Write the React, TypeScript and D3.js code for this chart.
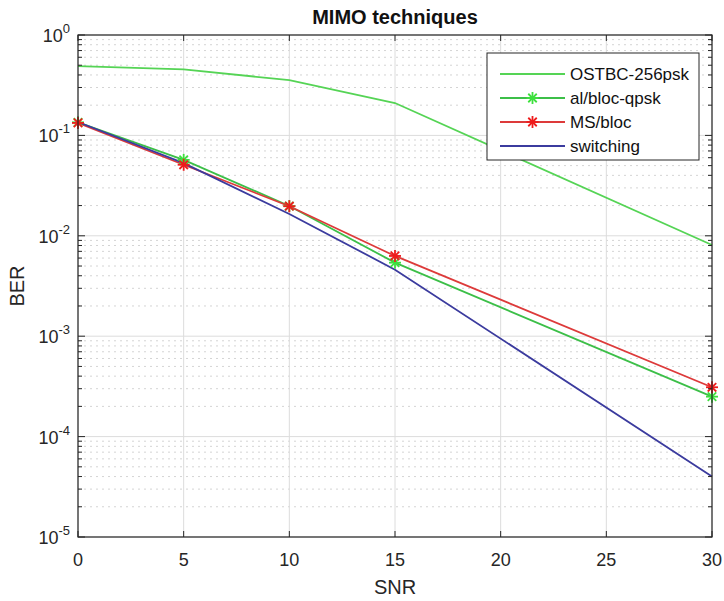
import { useEffect, useRef } from "react";
import * as d3 from "d3";

const snr = [0, 5, 10, 15, 30];
const ostbc = [0.49, 0.455, 0.355, 0.21, 0.0081];
const alBloc = [0.135, 0.057, 0.0198, 0.0054, 0.00025];
const msBloc = [0.133, 0.051, 0.0197, 0.0063, 0.00031];
const switching = [0.136, 0.053, 0.0165, 0.0046, 0.00004];
const xTicks = [0, 5, 10, 15, 20, 25, 30];
const yExps = [0, -1, -2, -3, -4, -5];

const series = [
  { name: "OSTBC-256psk", values: ostbc, color: "#55d455", marker: false, mcolor: "" },
  { name: "al/bloc-qpsk", values: alBloc, color: "#3cbf48", marker: true, mcolor: "#3ee03e" },
  { name: "MS/bloc", values: msBloc, color: "#dd3a3a", marker: true, mcolor: "#ee1c1c" },
  { name: "switching", values: switching, color: "#3b3b9e", marker: false, mcolor: "" },
];

const App = () => {
  const svgRef = useRef<SVGSVGElement>(null);

  useEffect(() => {
    const w = 724;
    const h = 601;
    const m = { left: 78, right: 12, top: 35, bottom: 64 };
    const svg = d3.select(svgRef.current).attr("width", w).attr("height", h);
    svg.selectAll("*").remove();

    const x = d3.scaleLinear().domain([0, 30]).range([m.left, w - m.right]);
    const y = d3.scaleLog().domain([1e-5, 1]).range([h - m.bottom, m.top]);
    const font = "Arial, 'Liberation Sans', sans-serif";

    svg.append("rect").attr("width", w).attr("height", h).attr("fill", "#fff");

    // minor grid
    const minors: number[] = [];
    yExps.slice(1).forEach((e) => {
      for (let k = 2; k <= 9; k++) minors.push(k * Math.pow(10, e));
    });
    svg.append("g").selectAll("line").data(minors).join("line")
      .attr("x1", m.left).attr("x2", w - m.right)
      .attr("y1", (d) => y(d)).attr("y2", (d) => y(d))
      .attr("stroke", "#d4d4d4").attr("stroke-dasharray", "2,4").attr("stroke-width", 1);

    // major grid
    svg.append("g").selectAll("line").data(xTicks).join("line")
      .attr("x1", (d) => x(d)).attr("x2", (d) => x(d))
      .attr("y1", m.top).attr("y2", h - m.bottom)
      .attr("stroke", "#dcdcdc");
    svg.append("g").selectAll("line").data(yExps).join("line")
      .attr("x1", m.left).attr("x2", w - m.right)
      .attr("y1", (d) => y(Math.pow(10, d))).attr("y2", (d) => y(Math.pow(10, d)))
      .attr("stroke", "#dcdcdc");

    // series
    const line = d3.line<[number, number]>().x((d) => x(d[0])).y((d) => y(d[1]));
    series.forEach((s) => {
      const pts = snr.map((v, i) => [v, s.values[i]] as [number, number]);
      svg.append("path").attr("d", line(pts)).attr("fill", "none")
        .attr("stroke", s.color).attr("stroke-width", 1.8);
    });
    const star = (g: any, cx: number, cy: number, c: string) => {
      const r = 6;
      [0, 45, 90, 135].forEach((a) => {
        const rad = (a * Math.PI) / 180;
        g.append("line")
          .attr("x1", cx - r * Math.cos(rad)).attr("y1", cy - r * Math.sin(rad))
          .attr("x2", cx + r * Math.cos(rad)).attr("y2", cy + r * Math.sin(rad))
          .attr("stroke", c).attr("stroke-width", 1.8);
      });
    };
    series.filter((s) => s.marker).forEach((s) => {
      const g = svg.append("g");
      snr.forEach((v, i) => star(g, x(v), y(s.values[i]), s.mcolor));
    });

    // box
    svg.append("rect").attr("x", m.left).attr("y", m.top)
      .attr("width", w - m.left - m.right).attr("height", h - m.top - m.bottom)
      .attr("fill", "none").attr("stroke", "#262626").attr("stroke-width", 1.2);

    // ticks
    const tk = svg.append("g").attr("stroke", "#262626").attr("stroke-width", 1);
    xTicks.forEach((t) => {
      tk.append("line").attr("x1", x(t)).attr("x2", x(t)).attr("y1", h - m.bottom).attr("y2", h - m.bottom - 6);
      tk.append("line").attr("x1", x(t)).attr("x2", x(t)).attr("y1", m.top).attr("y2", m.top + 6);
    });
    yExps.forEach((e) => {
      const yy = y(Math.pow(10, e));
      tk.append("line").attr("x1", m.left).attr("x2", m.left + 7).attr("y1", yy).attr("y2", yy);
      tk.append("line").attr("x1", w - m.right).attr("x2", w - m.right - 7).attr("y1", yy).attr("y2", yy);
    });
    minors.forEach((v) => {
      tk.append("line").attr("x1", m.left).attr("x2", m.left + 4).attr("y1", y(v)).attr("y2", y(v));
      tk.append("line").attr("x1", w - m.right).attr("x2", w - m.right - 4).attr("y1", y(v)).attr("y2", y(v));
    });

    // tick labels
    svg.append("g").selectAll("text").data(xTicks).join("text")
      .attr("x", (d) => x(d)).attr("y", h - m.bottom + 29)
      .attr("text-anchor", "middle").attr("font-family", font).attr("font-size", 18)
      .attr("fill", "#262626").text((d) => d);
    yExps.forEach((e) => {
      const t = svg.append("text").attr("x", m.left - 8).attr("y", y(Math.pow(10, e)) + 7)
        .attr("text-anchor", "end").attr("font-family", font).attr("font-size", 18).attr("fill", "#262626");
      t.append("tspan").text("10");
      t.append("tspan").attr("dy", -9).attr("font-size", 13).text(String(e));
    });

    // labels
    svg.append("text").attr("x", (m.left + w - m.right) / 2).attr("y", 24)
      .attr("text-anchor", "middle").attr("font-family", font).attr("font-size", 20)
      .attr("font-weight", "bold").attr("fill", "#111").text("MIMO techniques");
    svg.append("text").attr("x", (m.left + w - m.right) / 2).attr("y", 594)
      .attr("text-anchor", "middle").attr("font-family", font).attr("font-size", 20)
      .attr("fill", "#262626").text("SNR");
    svg.append("text").attr("transform", `translate(24,${(m.top + h - m.bottom) / 2}) rotate(-90)`)
      .attr("text-anchor", "middle").attr("font-family", font).attr("font-size", 20)
      .attr("fill", "#262626").text("BER");

    // legend
    const lg = svg.append("g").attr("transform", "translate(487,53)");
    lg.append("rect").attr("width", 212).attr("height", 107).attr("fill", "#fff")
      .attr("stroke", "#262626").attr("stroke-width", 1);
    series.forEach((s, i) => {
      const yy = 21 + i * 24;
      lg.append("line").attr("x1", 13).attr("x2", 78).attr("y1", yy).attr("y2", yy)
        .attr("stroke", s.color).attr("stroke-width", 1.8);
      if (s.marker) star(lg, 45.5, yy, s.mcolor);
      lg.append("text").attr("x", 83).attr("y", yy + 6).attr("font-family", font)
        .attr("font-size", 17).attr("fill", "#111").text(s.name);
    });
  }, []);

  return <svg ref={svgRef} style={{ display: "block", position: "absolute", left: 0, top: 0 }}></svg>;
};

export default App;
